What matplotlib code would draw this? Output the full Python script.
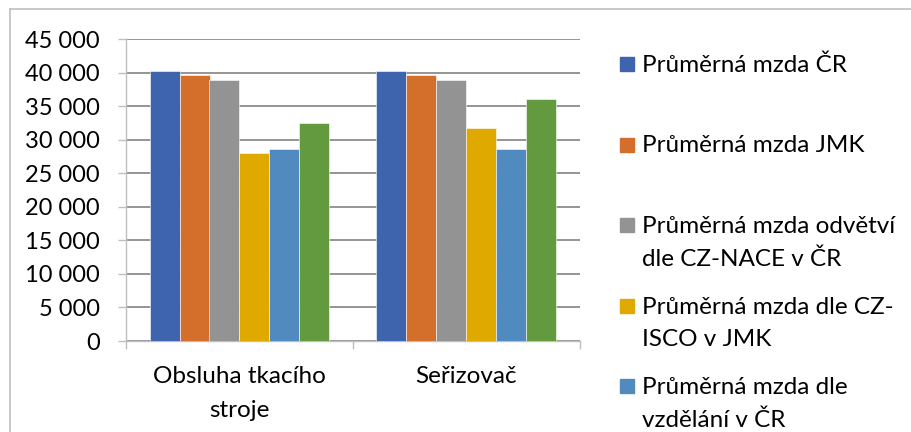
import matplotlib
matplotlib.use("Agg")
import matplotlib.pyplot as plt
import matplotlib.transforms as mtransforms
from matplotlib.patches import Rectangle
from matplotlib.lines import Line2D
from matplotlib.ticker import FuncFormatter
import numpy as np

plt.rcParams['font.family'] = ['Lato', 'DejaVu Sans']

# data
categories = ["Obsluha tkacího\nstroje", "Seřizovač"]
series_names = [
    "Průměrná mzda ČR",
    "Průměrná mzda JMK",
    "Průměrná mzda odvětví\ndle CZ-NACE v ČR",
    "Průměrná mzda dle CZ-\nISCO v JMK",
    "Průměrná mzda dle\nvzdělání v ČR",
    "Průměrná mzda dle\nvzdělání v JMK",
]
avg_cr = [40300, 40300]
avg_jmk = [39650, 39650]
avg_nace = [38900, 38900]
avg_isco = [28050, 31700]
avg_edu_cr = [28600, 28600]
avg_edu_jmk = [32500, 36100]
series_values = [avg_cr, avg_jmk, avg_nace, avg_isco, avg_edu_cr, avg_edu_jmk]
colors = ["#3D64AD", "#D36F2B", "#939393", "#E0A900", "#508ABE", "#639A3F"]
y_ticks = list(range(0, 45001, 5000))

W, H = 912, 432
fig = plt.figure(figsize=(W / 100, H / 100), dpi=100)

# outer chart border (only left and top visible in the crop)
fig.add_artist(Line2D([10 / W, 10 / W], [0, 1 - 9 / H], color="#BFBFBF", lw=1.2))
fig.add_artist(Line2D([10 / W, 1], [1 - 9 / H, 1 - 9 / H], color="#BFBFBF", lw=1.2))

ax = fig.add_axes([126 / W, (H - 341) / H, 454 / W, 302 / H])

x = np.arange(len(categories))
bw = 30 / 227
n = len(series_values)
for i, (vals, c) in enumerate(zip(series_values, colors)):
    ax.bar(x + (i - (n - 1) / 2) * bw, vals, width=bw, color=c, zorder=3,
           edgecolor="white", linewidth=0.4)

ax.set_xlim(-0.5, len(categories) - 0.5)
ax.set_ylim(0, 45000)
ax.set_yticks(y_ticks)
ax.yaxis.set_major_formatter(FuncFormatter(lambda v, p: f"{int(v):,}".replace(",", " ")))
ax.grid(axis="y", color="#8C8C8C", lw=1.3, zorder=0)
ax.tick_params(axis="y", length=6, width=1, color="#BFBFBF", pad=13, labelsize=17)

ax.set_xticks(np.arange(-0.5, len(categories), 1.0))
ax.set_xticklabels([])
ax.tick_params(axis="x", length=6, width=1, color="#BFBFBF")

# category labels, one text per line, baselines in figure pixels
blend = mtransforms.blended_transform_factory(ax.transData, fig.transFigure)
for xi, lab in zip(x, categories):
    for k, line in enumerate(lab.split("\n")):
        yb = 383 + k * 34
        ax.text(xi, (H - yb) / H, line, transform=blend, ha="center",
                va="baseline", fontsize=17.5)

for s in ["top", "right"]:
    ax.spines[s].set_visible(False)
ax.spines["left"].set_color("#BFBFBF")
ax.spines["bottom"].set_color("#BFBFBF")
ax.spines["left"].set_linewidth(1)
ax.spines["bottom"].set_linewidth(1)

# manual legend, marker aligned with the first line of each label;
# the sixth entry falls below the visible area, as in the reference
first_line_y = [64, 144.5, 225, 305.5, 386, 466.5]
line_pitch = 33
for name, c, yc in zip(series_names, colors, first_line_y):
    if yc > H:
        continue
    fig.add_artist(Rectangle((620 / W, (H - yc - 7) / H), 14 / W, 14 / H,
                             color=c, transform=fig.transFigure))
    for k, line in enumerate(name.split("\n")):
        yb = yc + 8 + k * line_pitch
        fig.text(642 / W, (H - yb) / H, line, ha="left", va="baseline",
                 fontsize=17.5)

fig.savefig("out.png", dpi=100)
